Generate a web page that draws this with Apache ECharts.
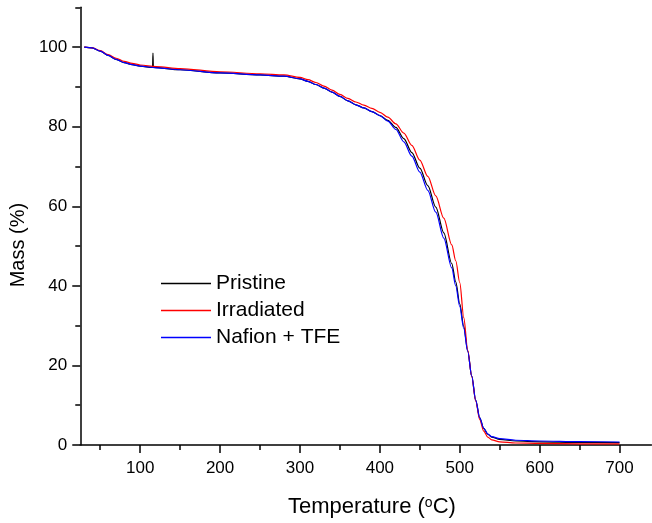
<!DOCTYPE html>
<html><head><meta charset="utf-8">
<script src="https://cdn.jsdelivr.net/npm/echarts@6/dist/echarts.min.js"></script>
<style>html,body{margin:0;padding:0;background:#fff}#c{width:652px;height:523px}</style>
</head><body><div id="c"></div>
<script>
// Temperatures (°C) shared by Irradiated and Nafion + TFE
const temps = [30,40,50,60,70,80,90,100,120,150,200,250,280,300,310,320,330,340,350,360,370,380,390,400,410,420,430,440,450,460,470,480,490,495,500,505,510,515,520,525,530,535,540,550,570,600,650,700];
// Mass (%)
const nafionTFE = [100.0,99.8,99.0,97.9,96.9,96.1,95.6,95.2,94.8,94.3,93.5,93.0,92.7,92.0,91.4,90.6,89.7,88.7,87.6,86.5,85.5,84.7,83.8,82.8,81.4,79.3,76.2,72.6,68.6,64.0,58.5,52.0,44.5,40.0,34.8,29.3,23.5,17.3,11.2,6.8,4.2,2.8,2.1,1.6,1.2,1.0,0.85,0.75];
const irradiated = [100.0,99.8,99.1,98.1,97.2,96.4,95.9,95.5,95.1,94.6,93.8,93.3,93.0,92.4,91.8,91.1,90.2,89.2,88.1,87.1,86.2,85.4,84.6,83.6,82.4,80.7,78.4,75.3,71.6,67.5,62.6,57.0,50.3,46.3,40.8,32.0,23.8,17.2,11.0,6.4,3.5,2.0,1.3,0.8,0.5,0.4,0.3,0.3];
// Pristine has its own temperature list (includes the small spike near 116 °C)
const pristineTemps = [30,40,50,60,70,80,90,100,115.5,116,116.5,150,200,250,280,300,310,320,330,340,350,360,370,380,390,400,410,420,430,440,450,460,470,480,490,495,500,505,510,515,520,525,530,535,540,550,570,600,650,700];
const pristine = [100.0,99.8,99.0,97.9,96.9,96.1,95.6,95.2,94.9,98.5,94.9,94.3,93.5,93.0,92.7,92.0,91.4,90.6,89.7,88.7,87.6,86.5,85.5,84.7,83.8,82.8,81.6,79.8,77.0,73.5,69.6,65.2,59.8,53.3,45.6,41.0,35.5,29.8,23.6,17.3,11.2,6.8,4.2,2.7,2.0,1.4,1.0,0.8,0.65,0.6];

const seriesNames = ['Pristine','Irradiated','Nafion + TFE'];
const xMajorTicks = [100,200,300,400,500,600,700];
const xMinorTicks = [50,150,250,350,450,550,650];
const yMajorTicks = [0,20,40,60,80,100];
const yMinorTicks = [10,30,50,70,90,110];

const FF = "'Liberation Sans', Arial, sans-serif";
const axisLineStyle = {color:'#000', width:1.5};

function pairs(xs, ys){ return xs.map((x,i)=>[x, ys[i]]); }

const chart = echarts.init(document.getElementById('c'), null, {renderer:'canvas'});
chart.setOption({
  animation:false,
  backgroundColor:'#fff',
  grid:{left:75, right:0.5, top:7.3, bottom:75.7, containLabel:false},
  legend:{
    orient:'vertical', left:161, top:273, padding:0, itemGap:6,
    itemWidth:50, itemHeight:1.5, icon:'rect',
    textStyle:{fontSize:21, lineHeight:20, color:'#000', fontFamily:FF},
    data:seriesNames
  },
  xAxis:[
    {type:'value', min:25, max:740, position:'bottom',
     axisLine:{show:true, onZero:false, lineStyle:axisLineStyle},
     axisTick:{show:true, customValues:xMajorTicks, length:8, lineStyle:axisLineStyle},
     axisLabel:{customValues:xMajorTicks, fontSize:17, color:'#000', margin:15, fontFamily:FF},
     splitLine:{show:false},
     name:'Temperature ({sup|o}C)', nameLocation:'middle', nameGap:51,
     nameTextStyle:{fontSize:22, color:'#000', fontFamily:FF, padding:[0,0,0,12],
       rich:{sup:{fontSize:14, verticalAlign:'top', color:'#000', fontFamily:FF}}}
    },
    {type:'value', min:25, max:740, position:'bottom',
     axisLine:{show:false, onZero:false},
     axisTick:{show:true, customValues:xMinorTicks, length:5, lineStyle:axisLineStyle},
     axisLabel:{show:false}, splitLine:{show:false}}
  ],
  yAxis:[
    {type:'value', min:0, max:110, position:'left',
     axisLine:{show:true, onZero:false, lineStyle:axisLineStyle},
     axisTick:{show:true, customValues:yMajorTicks, length:8, lineStyle:axisLineStyle},
     axisLabel:{customValues:yMajorTicks, fontSize:17, color:'#000', margin:13, fontFamily:FF},
     splitLine:{show:false},
     name:'Mass (%)', nameLocation:'middle', nameRotate:90, nameGap:44,
     nameTextStyle:{fontSize:20, color:'#000', fontFamily:FF, padding:[0,38,0,0]}
    },
    {type:'value', min:0, max:110, position:'left',
     axisLine:{show:false, onZero:false},
     axisTick:{show:true, customValues:yMinorTicks, length:5, lineStyle:axisLineStyle},
     axisLabel:{show:false}, splitLine:{show:false}}
  ],
  series:[
    {name:seriesNames[0], type:'line', data:pairs(pristineTemps, pristine), symbol:'none', showSymbol:false,
     smooth:0.3, smoothMonotone:'x', lineStyle:{color:'#000000', width:1.2}, itemStyle:{color:'#000000'}},
    {name:seriesNames[1], type:'line', data:pairs(temps, irradiated), symbol:'none', showSymbol:false,
     smooth:0.3, smoothMonotone:'x', lineStyle:{color:'#ff0000', width:1.2}, itemStyle:{color:'#ff0000'}},
    {name:seriesNames[2], type:'line', data:pairs(temps, nafionTFE), symbol:'none', showSymbol:false,
     smooth:0.3, smoothMonotone:'x', lineStyle:{color:'#0000ff', width:1.2}, itemStyle:{color:'#0000ff'}}
  ]
});
</script>
</body></html>
